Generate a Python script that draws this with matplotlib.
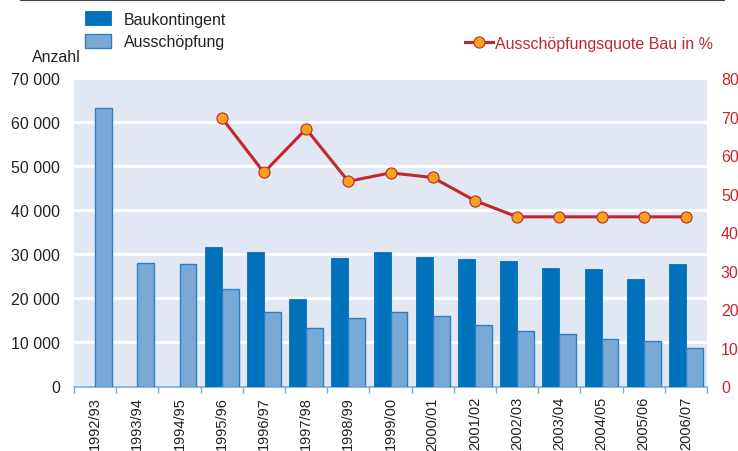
import matplotlib
matplotlib.use("Agg")
import matplotlib.pyplot as plt
import numpy as np
from matplotlib.lines import Line2D
from matplotlib.patches import Rectangle

plt.rcParams['font.family'] = ['Liberation Sans', 'DejaVu Sans']

years = ["1992/93", "1993/94", "1994/95", "1995/96", "1996/97", "1997/98", "1998/99",
         "1999/00", "2000/01", "2001/02", "2002/03", "2003/04", "2004/05", "2005/06", "2006/07"]
baukontingent = [np.nan, np.nan, np.nan, 31700, 30500, 19850, 29100, 30500, 29350, 28900,
                 28400, 26900, 26600, 24400, 27700]
ausschoepfung = [63200, 28000, 27800, 22050, 16850, 13250, 15500, 16850, 15900, 13900,
                 12500, 11900, 10750, 10300, 8750]
quote = [np.nan, np.nan, np.nan, 69.7, 55.5, 66.8, 53.2, 55.4, 54.2, 48.2, 44.0, 44.0, 44.0, 44.0, 44.0]
left_ticks = [0, 10000, 20000, 30000, 40000, 50000, 60000, 70000]
right_ticks = [0, 10, 20, 30, 40, 50, 60, 70, 80]

BG = "#E1E8F3"
DARK = "#0072BC"
LIGHT = "#79A9D4"
LIGHT_EDGE = "#2E7EC4"
RED = "#C0282E"
ORANGE = "#F6A21C"

fig = plt.figure(figsize=(7.38, 4.52), dpi=100)
W, H = 738, 452
ax = fig.add_axes([74 / W, 1 - 387.5 / H, (707 - 74) / W, (387.5 - 79) / H])
ax.set_facecolor(BG)

x = np.arange(len(years))
bw = 0.4
ax.bar(x - bw / 2, baukontingent, width=bw, color=DARK, edgecolor=DARK, linewidth=0.6, zorder=3)
ax.bar(x + bw / 2, ausschoepfung, width=bw, color=LIGHT, edgecolor=LIGHT_EDGE, linewidth=1.0, zorder=3)

ax.set_xlim(-0.5, len(years) - 0.5)
ax.set_ylim(0, 70000)
ax.set_yticks(left_ticks)
ax.set_yticklabels([f"{v:,}".replace(",", " ") for v in left_ticks], fontsize=11.5, color="#222222")
ax.yaxis.grid(True, color="white", linewidth=2.2, zorder=1)
ax.set_axisbelow(True)
ax.tick_params(axis='y', length=0, pad=10)

# x ticks at category boundaries, labels at centers
ax.set_xticks(np.arange(-0.5, len(years) + 0.5, 1.0))
ax.set_xticklabels([])
ax.set_xticks(x, minor=True)
ax.set_xticklabels(years, minor=True, rotation=90, fontsize=10.5, color="#222222")
ax.tick_params(axis='x', which='major', length=4, color="#7FA7D6", width=1)
ax.tick_params(axis='x', which='minor', length=0, pad=7)

for s in ["top", "left", "right"]:
    ax.spines[s].set_visible(False)
ax.spines["bottom"].set_color("#7FA7D6")
ax.spines["bottom"].set_linewidth(1.2)

ax2 = ax.twinx()
ax2.set_ylim(0, 80)
ax2.set_yticks(right_ticks)
ax2.set_yticklabels([str(v) for v in right_ticks], fontsize=11.5, color=RED)
ax2.tick_params(axis='y', length=0, pad=10)
for s in ["top", "left", "right", "bottom"]:
    ax2.spines[s].set_visible(False)
ax2.plot(x, quote, color=RED, linewidth=2.2, marker="o", markersize=8,
         markerfacecolor=ORANGE, markeredgecolor=RED, markeredgewidth=0.8, zorder=5)

# top rule
fig.add_artist(Line2D([21 / W, 724 / W], [1 - 1 / H, 1 - 1 / H], color="#444444", linewidth=1.5))

# legend for bars
fig.add_artist(Rectangle((85 / W, 1 - 26 / H), 26 / W, 14 / H, facecolor=DARK, edgecolor=DARK, linewidth=0.6))
fig.add_artist(Rectangle((85 / W, 1 - 48.5 / H), 26 / W, 14 / H, facecolor=LIGHT, edgecolor=LIGHT_EDGE, linewidth=1.0))
fig.text(124 / W, 1 - 21 / H, "Baukontingent", fontsize=11.5, va="center", ha="left", color="#222222")
fig.text(124 / W, 1 - 42.5 / H, "Ausschöpfung", fontsize=11.5, va="center", ha="left", color="#222222")
fig.text(81 / W, 1 - 58 / H, "Anzahl", fontsize=11.5, va="center", ha="right", color="#222222")

# legend for line
fig.add_artist(Line2D([465 / W, 493 / W], [1 - 43 / H, 1 - 43 / H], color=RED, linewidth=2.2))
fig.add_artist(Line2D([479 / W], [1 - 43 / H], marker="o", markersize=8, markerfacecolor=ORANGE,
                      markeredgecolor=RED, markeredgewidth=0.8, linestyle="none"))
fig.text(495 / W, 1 - 45 / H, "Ausschöpfungsquote Bau in %", fontsize=11.5, va="center", ha="left", color=RED)

fig.savefig("out.png", dpi=100)
